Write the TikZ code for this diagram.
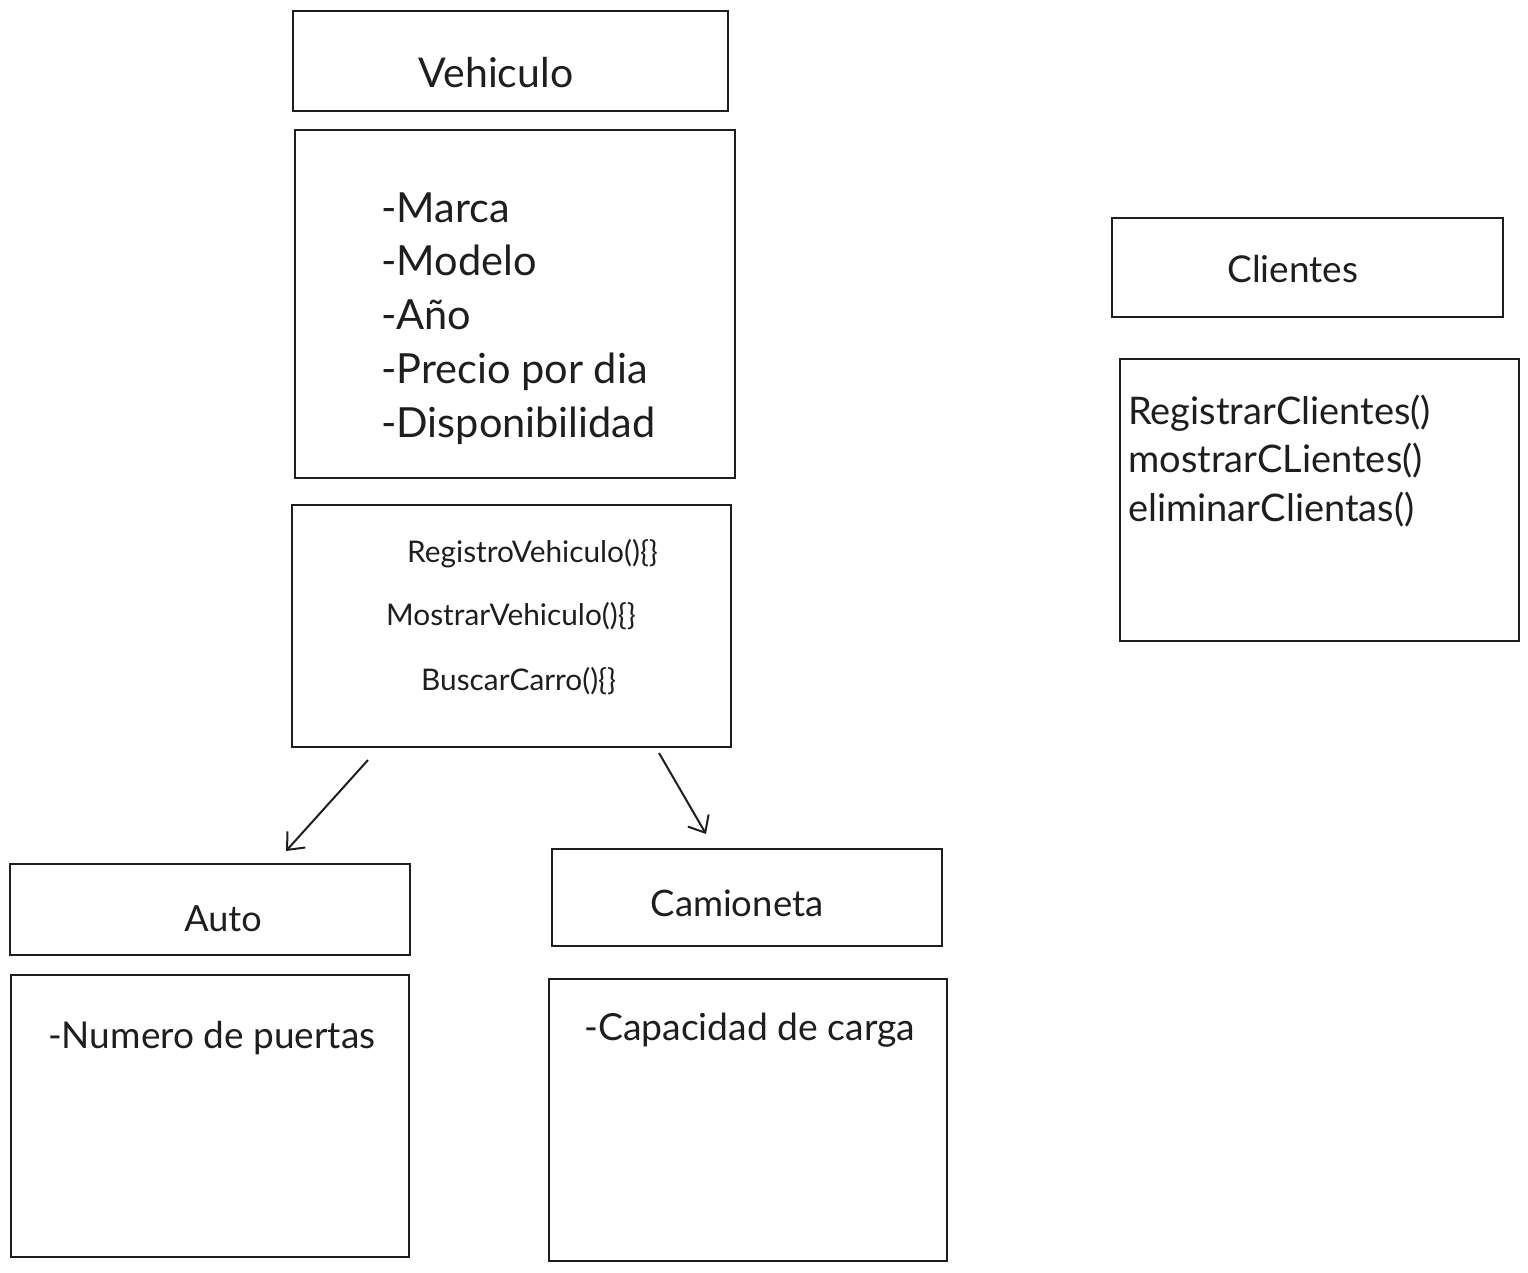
\documentclass[tikz,border=0pt]{standalone}
\usepackage{fontspec}
\setmainfont{Lato}
\usetikzlibrary{arrows.meta}
\definecolor{ink}{HTML}{1E1E1E}
\tikzset{
  box/.style={draw=ink, line width=1.8pt, anchor=north west, inner sep=0pt, outer sep=0pt},
  lbl/.style={text=ink, inner sep=0pt, anchor=mid},
  lbll/.style={text=ink, inner sep=0pt, anchor=mid west},
  conn/.style={draw=ink, line width=2pt, -{Straight Barb[length=14pt,width=24pt,line width=2pt]}},
}
\newcommand{\fs}[1]{\fontsize{#1}{#1}\selectfont}
\begin{document}
\begin{tikzpicture}[x=1pt,y=-1pt]
\useasboundingbox (0,0) rectangle (1528,1272);
% Vehiculo
\node[box, minimum width=435pt, minimum height=100pt] (vt) at (293,11) {};
\node[lbl] (vtt) at (496,85) {\fs{41}Vehiculo};
\node[box, minimum width=440pt, minimum height=348pt] (va) at (295,130) {};
\node[lbll] (va1) at (381,220) {\fs{41.5}-Marca};
\node[lbll] (va2) at (381,273) {\fs{41.5}-Modelo};
\node[lbll] (va3) at (381,327) {\fs{41.5}-Año};
\node[lbll] (va4) at (381,381) {\fs{41.5}-Precio por dia};
\node[lbll] (va5) at (381,435) {\fs{41.5}-Disponibilidad};
\node[box, minimum width=439pt, minimum height=242pt] (vm) at (292,505) {};
\node[lbll] (vm1) at (407,560) {\fs{29.8}RegistroVehiculo()\{\}};
\node[lbll] (vm2) at (386,623) {\fs{29.8}MostrarVehiculo()\{\}};
\node[lbll] (vm3) at (421,688) {\fs{29.8}BuscarCarro()\{\}};
% Clientes
\node[box, minimum width=391pt, minimum height=99pt] (ct) at (1112,218) {};
\node[lbl] (ctt) at (1293,280) {\fs{37}Clientes};
\node[box, minimum width=399pt, minimum height=282pt] (cm) at (1120,359) {};
\node[lbll] (cm1) at (1128,422) {\fs{38}RegistrarClientes()};
\node[lbll] (cm2) at (1128,470) {\fs{38}mostrarCLientes()};
\node[lbll] (cm3) at (1128,519) {\fs{38}eliminarClientas()};
% Auto
\node[box, minimum width=400pt, minimum height=91pt] (at) at (10,864) {};
\node[lbl] (att) at (223,929) {\fs{36}Auto};
\node[box, minimum width=398pt, minimum height=282pt] (ab) at (11,975) {};
\node[lbll] (ab1) at (48,1046) {\fs{37}-Numero de puertas};
% Camioneta
\node[box, minimum width=390pt, minimum height=97pt] (kt) at (552,849) {};
\node[lbl] (ktt) at (737,914) {\fs{36.5}Camioneta};
\node[box, minimum width=398pt, minimum height=282pt] (kb) at (549,979) {};
\node[lbll] (kb1) at (584,1038) {\fs{37.3}-Capacidad de carga};
% arrows
\coordinate (a1s) at (368,760);
\coordinate (a1e) at (286,851);
\coordinate (a2s) at (659,753);
\coordinate (a2e) at (706,834);
\draw[conn] (a1s) -- (a1e);
\draw[conn] (a2s) -- (a2e);
\end{tikzpicture}
\end{document}
